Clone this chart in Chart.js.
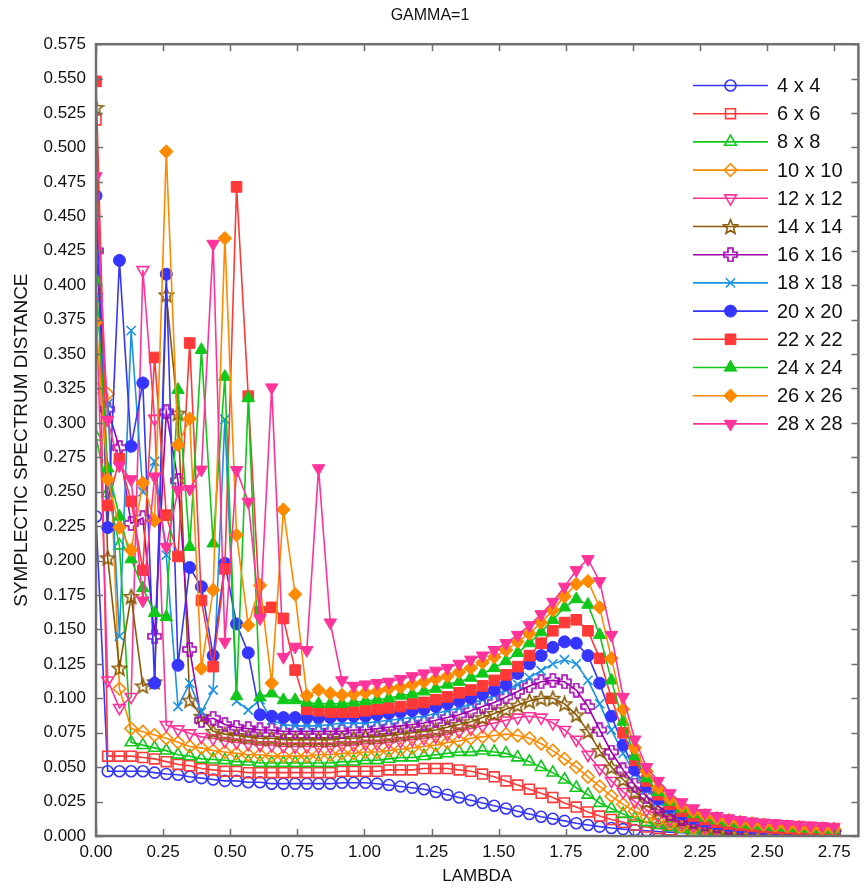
<!DOCTYPE html>
<html>
<head>
<meta charset="utf-8">
<title>GAMMA=1</title>
<script src="https://cdn.jsdelivr.net/npm/chart.js@4.4.1/dist/chart.umd.min.js"></script>
<style>
  html, body { margin: 0; padding: 0; background: #ffffff; }
  #chart { display: block; }
</style>
</head>
<body>
<canvas id="chart" width="867" height="890"></canvas>
<script>
// Valores de lambda (eje x)
const lambdas = [
  0.0000, 0.0436, 0.0873, 0.1309, 0.1745, 0.2182, 0.2618, 0.3054, 0.3491, 0.3927,
  0.4363, 0.4800, 0.5236, 0.5672, 0.6109, 0.6545, 0.6981, 0.7418, 0.7854, 0.8290,
  0.8727, 0.9163, 0.9599, 1.0036, 1.0472, 1.0908, 1.1345, 1.1781, 1.2217, 1.2654,
  1.3090, 1.3526, 1.3963, 1.4399, 1.4835, 1.5272, 1.5708, 1.6144, 1.6581, 1.7017,
  1.7453, 1.7890, 1.8326, 1.8762, 1.9199, 1.9635, 2.0071, 2.0508, 2.0944, 2.1380,
  2.1817, 2.2253, 2.2689, 2.3126, 2.3562, 2.3998, 2.4435, 2.4871, 2.5307, 2.5744,
  2.6180, 2.6616, 2.7053, 2.7489
];

// Distancia por tamaño de red
const d4 = [
  0.232, 0.047, 0.047, 0.047, 0.047, 0.046, 0.045, 0.0445, 0.043, 0.042,
  0.041, 0.040, 0.040, 0.039, 0.039, 0.038, 0.038, 0.038, 0.038, 0.038,
  0.038, 0.0387, 0.0387, 0.0387, 0.038, 0.037, 0.036, 0.035, 0.034, 0.032,
  0.030, 0.028, 0.026, 0.024, 0.022, 0.020, 0.018, 0.016, 0.014, 0.0125,
  0.011, 0.0093, 0.008, 0.0068, 0.0058, 0.005, 0.0044, 0.0038, 0.0033, 0.0028,
  0.0024, 0.0021, 0.0018, 0.0016, 0.0014, 0.0012, 0.0011, 0.001, 0.0009, 0.0008,
  0.0008, 0.0007, 0.0007, 0.0006
];
const d6 = [
  0.520, 0.058, 0.058, 0.058, 0.057, 0.056, 0.054, 0.052, 0.051, 0.049,
  0.048, 0.047, 0.047, 0.046, 0.046, 0.046, 0.046, 0.046, 0.046, 0.046,
  0.046, 0.047, 0.047, 0.047, 0.047, 0.048, 0.048, 0.048, 0.049, 0.049,
  0.049, 0.048, 0.047, 0.045, 0.043, 0.040, 0.037, 0.034, 0.031, 0.028,
  0.024, 0.021, 0.0175, 0.0145, 0.012, 0.010, 0.008, 0.0065, 0.0055, 0.0045,
  0.0038, 0.0032, 0.0027, 0.0023, 0.002, 0.0018, 0.0016, 0.0014, 0.0013, 0.0012,
  0.0011, 0.001, 0.001, 0.0009
];
const d8 = [
  0.290, 0.249, 0.211, 0.068, 0.066, 0.064, 0.062, 0.059, 0.058, 0.056,
  0.0555, 0.055, 0.054, 0.054, 0.053, 0.053, 0.053, 0.053, 0.053, 0.053,
  0.053, 0.054, 0.054, 0.055, 0.055, 0.056, 0.057, 0.057, 0.058, 0.059,
  0.060, 0.061, 0.061, 0.062, 0.061, 0.060, 0.057, 0.054, 0.050, 0.046,
  0.041, 0.035, 0.030, 0.024, 0.020, 0.016, 0.013, 0.010, 0.008, 0.0065,
  0.0052, 0.0042, 0.0035, 0.003, 0.0026, 0.0023, 0.002, 0.0018, 0.0016, 0.0015,
  0.0014, 0.0013, 0.0012, 0.0011
];
const d10 = [
  0.325, 0.321, 0.107, 0.078, 0.0757, 0.0733, 0.071, 0.068, 0.065, 0.064,
  0.062, 0.061, 0.060, 0.059, 0.059, 0.058, 0.058, 0.058, 0.058, 0.059,
  0.059, 0.060, 0.060, 0.061, 0.061, 0.062, 0.063, 0.064, 0.065, 0.066,
  0.068, 0.069, 0.071, 0.072, 0.073, 0.074, 0.073, 0.071, 0.067, 0.062,
  0.056, 0.050, 0.043, 0.036, 0.029, 0.023, 0.018, 0.014, 0.011, 0.009,
  0.007, 0.0058, 0.0048, 0.004, 0.0035, 0.003, 0.0027, 0.0024, 0.0022, 0.002,
  0.0019, 0.0018, 0.0017, 0.0016
];
const d12 = [
  0.391, 0.113, 0.093, 0.101, 0.411, 0.303, 0.0806, 0.0775, 0.0746, 0.072,
  0.071, 0.069, 0.068, 0.067, 0.066, 0.066, 0.065, 0.065, 0.065, 0.065,
  0.065, 0.066, 0.066, 0.067, 0.067, 0.068, 0.069, 0.070, 0.071, 0.072,
  0.074, 0.076, 0.078, 0.080, 0.082, 0.084, 0.086, 0.087, 0.086, 0.082,
  0.077, 0.070, 0.059, 0.049, 0.040, 0.032, 0.025, 0.019, 0.015, 0.012,
  0.0095, 0.0078, 0.0064, 0.0054, 0.0046, 0.004, 0.0036, 0.0033, 0.003, 0.0028,
  0.0026, 0.0024, 0.0023, 0.0022
];
const d14 = [
  0.529, 0.202, 0.122, 0.174, 0.109, 0.112, 0.393, 0.307, 0.0987, 0.087,
  0.076, 0.074, 0.073, 0.072, 0.071, 0.071, 0.070, 0.070, 0.070, 0.070,
  0.070, 0.071, 0.071, 0.072, 0.072, 0.073, 0.074, 0.075, 0.076, 0.077,
  0.079, 0.081, 0.083, 0.086, 0.089, 0.092, 0.095, 0.098, 0.100, 0.100,
  0.096, 0.088, 0.076, 0.062, 0.050, 0.041, 0.032, 0.025, 0.019, 0.015,
  0.012, 0.0095, 0.0078, 0.0065, 0.0055, 0.0048, 0.0042, 0.0038, 0.0035, 0.0032,
  0.003, 0.0028, 0.0026, 0.0025
];
const d16 = [
  0.425, 0.310, 0.282, 0.227, 0.231, 0.145, 0.308, 0.258, 0.1355, 0.084,
  0.0855, 0.081, 0.079, 0.078, 0.077, 0.077, 0.076, 0.076, 0.076, 0.076,
  0.076, 0.076, 0.077, 0.077, 0.078, 0.079, 0.080, 0.081, 0.082, 0.084,
  0.086, 0.088, 0.091, 0.094, 0.097, 0.101, 0.105, 0.109, 0.112, 0.113,
  0.112, 0.106, 0.094, 0.077, 0.061, 0.048, 0.037, 0.029, 0.0215, 0.016,
  0.013, 0.0105, 0.0088, 0.0074, 0.0064, 0.0056, 0.005, 0.0045, 0.0041, 0.0038,
  0.0035, 0.0033, 0.0031, 0.003
];
const d18 = [
  0.390, 0.314, 0.145, 0.367, 0.250, 0.272, 0.204, 0.094, 0.111, 0.090,
  0.106, 0.3025, 0.098, 0.0915, 0.099, 0.084, 0.081, 0.080, 0.080, 0.080,
  0.081, 0.082, 0.082, 0.082, 0.083, 0.084, 0.085, 0.086, 0.087, 0.089,
  0.091, 0.093, 0.096, 0.099, 0.102, 0.106, 0.110, 0.115, 0.120, 0.125,
  0.128, 0.125, 0.113, 0.096, 0.077, 0.060, 0.045, 0.034, 0.025, 0.019,
  0.015, 0.012, 0.0098, 0.0082, 0.007, 0.006, 0.0053, 0.0048, 0.0044, 0.004,
  0.0037, 0.0035, 0.0033, 0.0031
];
const d20 = [
  0.465, 0.224, 0.418, 0.283, 0.329, 0.111, 0.408, 0.124, 0.195, 0.181,
  0.131, 0.198, 0.154, 0.133, 0.088, 0.087, 0.086, 0.086, 0.086, 0.086,
  0.086, 0.087, 0.087, 0.087, 0.088, 0.089, 0.090, 0.091, 0.092, 0.094,
  0.096, 0.098, 0.100, 0.103, 0.106, 0.110, 0.118, 0.125, 0.131, 0.137,
  0.141, 0.140, 0.131, 0.111, 0.087, 0.066, 0.048, 0.036, 0.027, 0.021,
  0.016, 0.013, 0.0108, 0.009, 0.0077, 0.0067, 0.006, 0.0054, 0.0049, 0.0045,
  0.0042, 0.004, 0.0038, 0.0036
];
const d22 = [
  0.548, 0.240, 0.274, 0.243, 0.193, 0.3475, 0.233, 0.203, 0.358, 0.171,
  0.123, 0.194, 0.4714, 0.3194, 0.163, 0.166, 0.158, 0.1205, 0.092, 0.091,
  0.090, 0.090, 0.090, 0.091, 0.092, 0.093, 0.094, 0.096, 0.097, 0.099,
  0.101, 0.104, 0.106, 0.109, 0.113, 0.117, 0.123, 0.131, 0.140, 0.149,
  0.155, 0.157, 0.149, 0.129, 0.100, 0.075, 0.055, 0.040, 0.030, 0.023,
  0.018, 0.0145, 0.012, 0.010, 0.0087, 0.0077, 0.0069, 0.0062, 0.0057, 0.0053,
  0.005, 0.0047, 0.0044, 0.0042
];
const d24 = [
  0.404, 0.267, 0.232, 0.201, 0.180, 0.162, 0.159, 0.324, 0.210, 0.353,
  0.2125, 0.3335, 0.1016, 0.318, 0.1007, 0.1036, 0.0987, 0.0987, 0.097, 0.096,
  0.096, 0.096, 0.097, 0.098, 0.099, 0.100, 0.102, 0.103, 0.105, 0.107,
  0.110, 0.112, 0.115, 0.118, 0.122, 0.127, 0.133, 0.140, 0.148, 0.157,
  0.166, 0.172, 0.168, 0.146, 0.113, 0.083, 0.058, 0.042, 0.032, 0.025,
  0.020, 0.016, 0.0135, 0.0115, 0.010, 0.0088, 0.0079, 0.0071, 0.0065, 0.006,
  0.0056, 0.0052, 0.0049, 0.0047
];
const d26 = [
  0.373, 0.259, 0.224, 0.2076, 0.2565, 0.229, 0.497, 0.284, 0.303, 0.1217,
  0.1786, 0.434, 0.2185, 0.153, 0.182, 0.111, 0.237, 0.1755, 0.102, 0.106,
  0.1036, 0.1024, 0.103, 0.104, 0.105, 0.107, 0.108, 0.110, 0.112, 0.114,
  0.116, 0.119, 0.122, 0.126, 0.130, 0.135, 0.141, 0.147, 0.155, 0.164,
  0.174, 0.183, 0.185, 0.166, 0.129, 0.092, 0.064, 0.047, 0.035, 0.027,
  0.022, 0.018, 0.015, 0.013, 0.0115, 0.0102, 0.0092, 0.0083, 0.0076, 0.007,
  0.0065, 0.006, 0.0056, 0.0053
];
const d28 = [
  0.479, 0.302, 0.269, 0.259, 0.171, 0.261, 0.210, 0.251, 0.252, 0.266,
  0.430, 0.141, 0.2657, 0.2427, 0.158, 0.3257, 0.130, 0.1374, 0.135, 0.267,
  0.155, 0.113, 0.109, 0.110, 0.111, 0.112, 0.114, 0.116, 0.118, 0.120,
  0.122, 0.125, 0.128, 0.131, 0.135, 0.140, 0.146, 0.153, 0.161, 0.170,
  0.181, 0.193, 0.201, 0.185, 0.146, 0.101, 0.070, 0.050, 0.040, 0.031,
  0.0245, 0.020, 0.0168, 0.0145, 0.0128, 0.0115, 0.0105, 0.0097, 0.0092, 0.0086,
  0.0081, 0.0076, 0.0071, 0.0066
];

const sizeLabels = ['4 x 4', '6 x 6', '8 x 8', '10 x 10', '12 x 12', '14 x 14', '16 x 16',
                    '18 x 18', '20 x 20', '22 x 22', '24 x 24', '26 x 26', '28 x 28'];
const allSeries = [d4, d6, d8, d10, d12, d14, d16, d18, d20, d22, d24, d26, d28];

const yTickStep = 0.025;
const xTickStep = 0.25;

const FONT = '"Liberation Sans", Arial, Helvetica, sans-serif';
Chart.defaults.font.family = FONT;
Chart.defaults.color = '#111111';

// Marcadores personalizados (estrella y cruz hueca)
function makeStar(color) {
  const c = document.createElement('canvas');
  c.width = 17; c.height = 17;
  const g = c.getContext('2d');
  g.strokeStyle = color;
  g.lineWidth = 1.6;
  g.beginPath();
  for (let i = 0; i < 10; i++) {
    const r = i % 2 === 0 ? 7.6 : 3.3;
    const a = -Math.PI / 2 + i * Math.PI / 5;
    const px = 8.5 + r * Math.cos(a);
    const py = 9.2 + r * Math.sin(a);
    if (i === 0) g.moveTo(px, py); else g.lineTo(px, py);
  }
  g.closePath();
  g.stroke();
  return c;
}
function makePlus(color) {
  const c = document.createElement('canvas');
  c.width = 15; c.height = 15;
  const g = c.getContext('2d');
  g.strokeStyle = color;
  g.lineWidth = 1.6;
  const a = 2.5, b = 6.5, m = 7.5;
  g.beginPath();
  g.moveTo(m - a, m - b); g.lineTo(m + a, m - b); g.lineTo(m + a, m - a);
  g.lineTo(m + b, m - a); g.lineTo(m + b, m + a); g.lineTo(m + a, m + a);
  g.lineTo(m + a, m + b); g.lineTo(m - a, m + b); g.lineTo(m - a, m + a);
  g.lineTo(m - b, m + a); g.lineTo(m - b, m - a); g.lineTo(m - a, m - a);
  g.closePath();
  g.stroke();
  return c;
}

const BLUE = '#3535ff', RED = '#ff3838', GREEN = '#10c81a', ORANGE = '#ff8a00',
      PINK = '#ff3399', BROWN = '#8a5a06', PURPLE = '#a100b0', SKY = '#1a92e6';
const NONE = 'rgba(0,0,0,0)';

// Estilo de cada serie: color, forma, relleno
const seriesStyles = [
  { color: BLUE,   style: 'circle',   fill: false, r: 5.5 },
  { color: RED,    style: 'rect',     fill: false, r: 7 },
  { color: GREEN,  style: 'triangle', fill: false, r: 6.8 },
  { color: ORANGE, style: 'rectRot',  fill: false, r: 6.3 },
  { color: PINK,   style: 'triangle', fill: false, r: 6.8, rot: 180 },
  { color: BROWN,  style: makeStar(BROWN), fill: false, r: 7 },
  { color: PURPLE, style: makePlus(PURPLE), fill: false, r: 7 },
  { color: SKY,    style: 'crossRot', fill: false, r: 6.5 },
  { color: BLUE,   style: 'circle',   fill: true,  r: 6 },
  { color: RED,    style: 'rect',     fill: true,  r: 7.5 },
  { color: GREEN,  style: 'triangle', fill: true,  r: 7.2 },
  { color: ORANGE, style: 'rectRot',  fill: true,  r: 6.8 },
  { color: PINK,   style: 'triangle', fill: true,  r: 7.2, rot: 180 }
];

const datasets = allSeries.map((vals, i) => {
  const st = seriesStyles[i];
  return {
    label: sizeLabels[i],
    data: lambdas.map((x, j) => ({ x: x, y: vals[j] })),
    borderColor: st.color,
    borderWidth: 1.6,
    pointStyle: st.style,
    pointRotation: st.rot || 0,
    pointRadius: st.r,
    pointHoverRadius: st.r,
    pointBorderColor: st.color,
    pointBackgroundColor: st.fill ? st.color : NONE,
    pointBorderWidth: st.fill ? 1 : 1.6,
    fill: false,
    tension: 0,
    order: allSeries.length - i
  };
});

// Marco y marcas de graduación hacia dentro
const framePlugin = {
  id: 'frameTicks',
  afterDatasetsDraw(chart) {
    const { ctx, chartArea: a, scales } = chart;
    ctx.save();
    ctx.strokeStyle = '#6f6f6f';
    ctx.lineWidth = 1.5;
    ctx.beginPath();
    scales.x.ticks.forEach(t => {
      const px = Math.round(scales.x.getPixelForValue(t.value)) + 0.5;
      ctx.moveTo(px, a.bottom); ctx.lineTo(px, a.bottom - 7);
      ctx.moveTo(px, a.top); ctx.lineTo(px, a.top + 7);
    });
    scales.y.ticks.forEach(t => {
      const py = Math.round(scales.y.getPixelForValue(t.value)) + 0.5;
      ctx.moveTo(a.left, py); ctx.lineTo(a.left + 7, py);
      ctx.moveTo(a.right, py); ctx.lineTo(a.right - 7, py);
    });
    ctx.stroke();
    ctx.lineWidth = 2.5;
    ctx.strokeRect(a.left, a.top, a.right - a.left, a.bottom - a.top);
    ctx.restore();
  }
};

// Leyenda con línea y marcador
const legendPlugin = {
  id: 'lineLegend',
  afterDraw(chart) {
    const ctx = chart.ctx;
    chart.data.datasets.forEach((ds, i) => {
      const y = 85.5 + i * 28.2;
      ctx.save();
      ctx.strokeStyle = ds.borderColor;
      ctx.lineWidth = 1.6;
      ctx.beginPath();
      ctx.moveTo(693, y); ctx.lineTo(768, y);
      ctx.stroke();
      ctx.fillStyle = ds.pointBackgroundColor;
      ctx.strokeStyle = ds.pointBorderColor;
      ctx.lineWidth = ds.pointBorderWidth;
      Chart.helpers.drawPoint(ctx, {
        pointStyle: ds.pointStyle,
        rotation: ds.pointRotation,
        radius: ds.pointRadius,
        borderWidth: ds.pointBorderWidth
      }, 730.5, y);
      ctx.fillStyle = '#111111';
      ctx.font = '20px ' + FONT;
      ctx.textBaseline = 'middle';
      ctx.textAlign = 'left';
      ctx.fillText(ds.label, 777, y + 1);
      ctx.restore();
    });
  }
};

new Chart(document.getElementById('chart'), {
  type: 'line',
  data: { datasets: datasets },
  options: {
    responsive: false,
    animation: false,
    events: [],
    layout: { padding: { left: 0, right: 7, top: 0, bottom: 0 } },
    plugins: {
      legend: { display: false },
      tooltip: { enabled: false },
      title: {
        display: true,
        text: 'GAMMA=1',
        color: '#111111',
        font: { size: 16, weight: 'normal' },
        padding: { top: 6, bottom: 19 }
      }
    },
    scales: {
      x: {
        type: 'linear',
        min: 0,
        max: 2.84,
        grid: { display: false, drawTicks: false },
        border: { display: false },
        ticks: {
          stepSize: xTickStep,
          includeBounds: false,
          padding: 6,
          maxRotation: 0,
          font: { size: 17 },
          color: '#111111',
          callback: v => Number(v).toFixed(2)
        },
        title: {
          display: true,
          text: 'LAMBDA',
          color: '#111111',
          font: { size: 17 },
          padding: { top: 0, bottom: 3 }
        },
        afterFit: s => { s.height = 54; }
      },
      y: {
        type: 'linear',
        min: 0,
        max: 0.575,
        grid: { display: false, drawTicks: false },
        border: { display: false },
        ticks: {
          stepSize: yTickStep,
          padding: 10,
          font: { size: 17 },
          color: '#111111',
          callback: v => Number(v).toFixed(3)
        },
        title: {
          display: true,
          text: 'SYMPLECTIC SPECTRUM DISTANCE',
          color: '#111111',
          font: { size: 19 },
          padding: { top: 10, bottom: 0 }
        },
        afterFit: s => { s.width = 96; }
      }
    }
  },
  plugins: [framePlugin, legendPlugin]
});
</script>
</body>
</html>
